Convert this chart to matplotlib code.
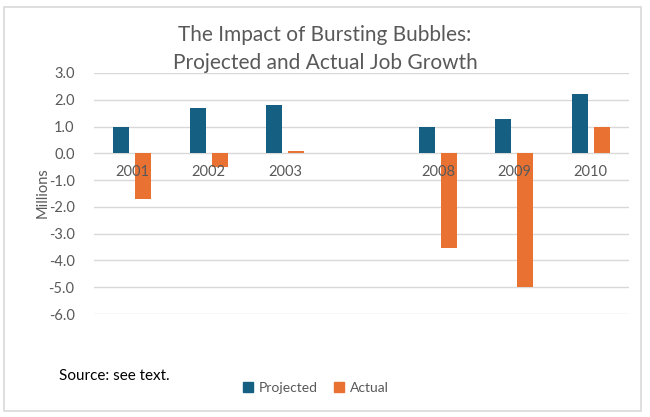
import numpy as np
import matplotlib
matplotlib.use("Agg")
import matplotlib.pyplot as plt
from matplotlib.patches import Rectangle, Patch

plt.rcParams['font.family'] = ['Lato', 'DejaVu Sans']

# blank slot between 2003 and 2008
years = ["2001", "2002", "2003", "", "2008", "2009", "2010"]
projected = [1.0, 1.7, 1.8, np.nan, 1.0, 1.3, 2.2]
actual = [-1.7, -0.5, 0.1, np.nan, -3.55, -5.0, 1.0]
yticks = np.arange(-6, 3.1, 1.0)

GRAY = "#595959"
BLUE = "#156082"
ORANGE = "#E97132"

fig = plt.figure(figsize=(6.5, 4.17), dpi=100)
ax = fig.add_axes([94 / 650, 1 - 314 / 417, 535 / 650, 241 / 417])

x = np.arange(len(years))
w = 0.21
ax.bar(x - 0.145, projected, w, color=BLUE)
ax.bar(x + 0.145, actual, w, color=ORANGE)

ax.set_xlim(-0.5, len(years) - 0.5)
ax.set_ylim(-6, 3)
ax.set_yticks(yticks)
ax.set_yticklabels([f"{v:.1f}" for v in yticks])
ax.tick_params(axis="y", length=0, pad=14, labelsize=10.5, labelcolor=GRAY)
ax.set_xticks([])
ax.grid(axis="y", color="#D9D9D9", linewidth=1)
ax.set_axisbelow(True)
for s in ax.spines.values():
    s.set_visible(False)

# category labels sit just under the zero line
for xi, lab in zip(x, years):
    ax.annotate(lab, (xi, 0), xytext=(0, -19), textcoords="offset pixels",
                ha="center", va="center", fontsize=10.5, color=GRAY)

fig.text(43 / 650, 1 - 193 / 417, "Millions", rotation=90, ha="center", va="center",
         fontsize=10.5, color=GRAY)

fig.text(325 / 650, 1 - 35 / 417, "The Impact of Bursting Bubbles:", ha="center", va="center",
         fontsize=15, color=GRAY)
fig.text(325 / 650, 1 - 63 / 417, "Projected and Actual Job Growth", ha="center", va="center",
         fontsize=15, color=GRAY)

fig.text(59 / 650, 1 - 376 / 417, "Source: see text.", ha="left", va="center",
         fontsize=11, color="black")

handles = [Patch(color=BLUE, label="Projected"), Patch(color=ORANGE, label="Actual")]
fig.legend(handles=handles, loc="center", bbox_to_anchor=(316 / 650, 1 - 388 / 417), ncol=2,
           frameon=False, fontsize=10, labelcolor=GRAY, handlelength=0.7, handleheight=0.7,
           handletextpad=0.4, columnspacing=1.2)

# light frame around the whole chart
fig.patches.append(Rectangle((4 / 650, 1 - 411 / 417), 637 / 650, 404 / 417, transform=fig.transFigure,
                             fill=False, edgecolor="#D9D9D9", linewidth=1.2))

fig.savefig("out.png", dpi=100, facecolor="white")
